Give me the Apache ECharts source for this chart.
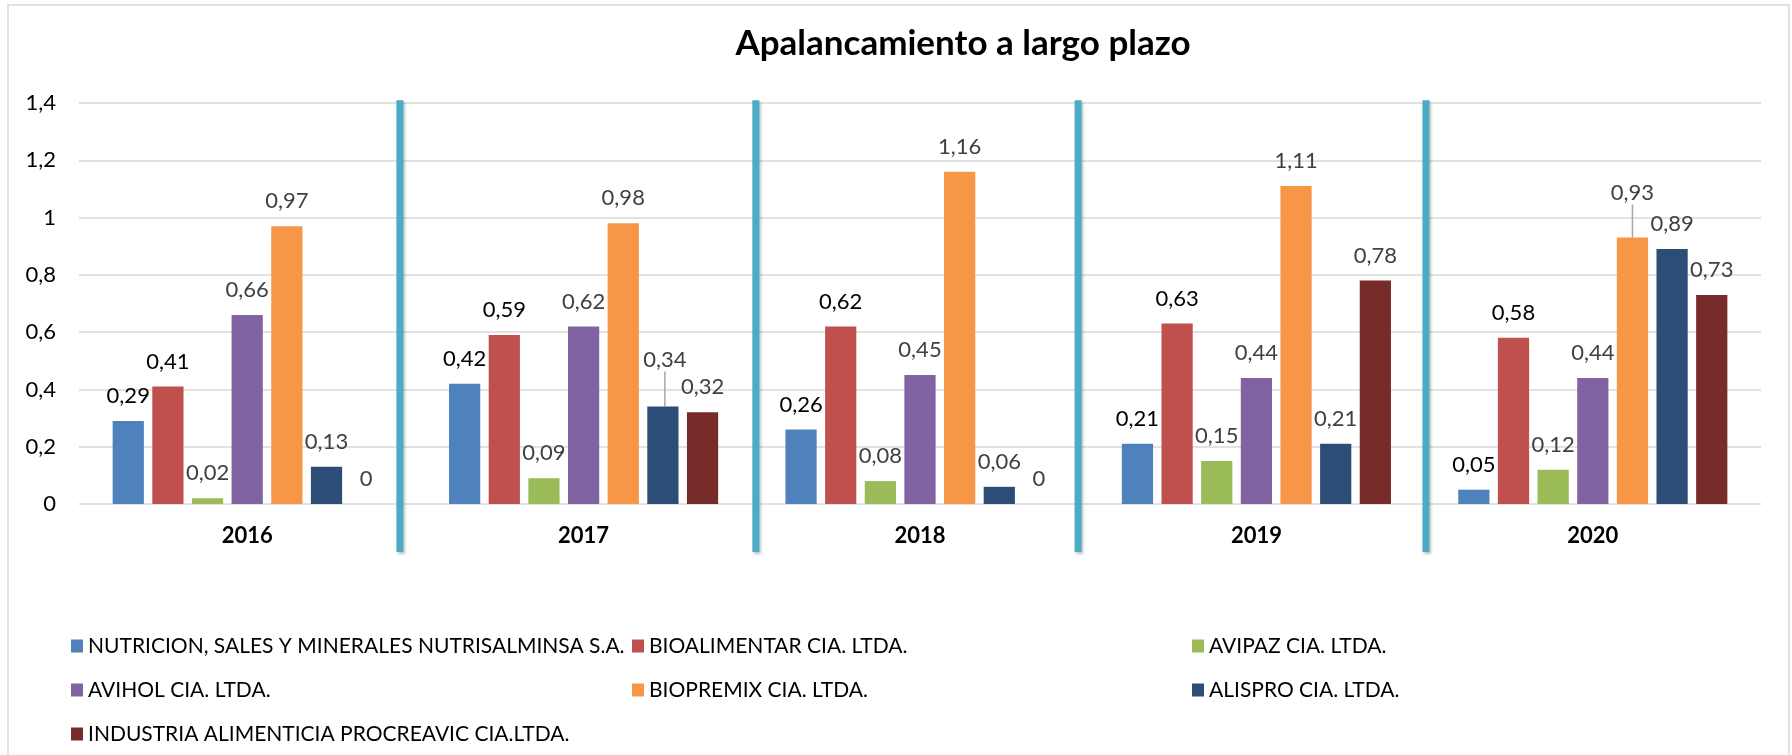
<!DOCTYPE html>
<html><head><meta charset="utf-8">
<script src="https://cdn.jsdelivr.net/npm/echarts@6/dist/echarts.min.js"></script>
<style>html,body{margin:0;padding:0;background:#fff}#c{width:1792px;height:755px}</style>
</head><body><div id="c"></div>
<script>
const chartTitle = 'Apalancamiento a largo plazo';
const years = ['2016', '2017', '2018', '2019', '2020'];
const seriesNames = [
  'NUTRICION, SALES Y MINERALES NUTRISALMINSA S.A.',
  'BIOALIMENTAR CIA. LTDA.',
  'AVIPAZ CIA. LTDA.',
  'AVIHOL CIA. LTDA.',
  'BIOPREMIX CIA. LTDA.',
  'ALISPRO CIA. LTDA.',
  'INDUSTRIA ALIMENTICIA PROCREAVIC CIA.LTDA.'
];
const nutrisalminsa = [0.29, 0.42, 0.26, 0.21, 0.05];
const bioalimentar  = [0.41, 0.59, 0.62, 0.63, 0.58];
const avipaz        = [0.02, 0.09, 0.08, 0.15, 0.12];
const avihol        = [0.66, 0.62, 0.45, 0.44, 0.44];
const biopremix     = [0.97, 0.98, 1.16, 1.11, 0.93];
const alispro       = [0.13, 0.34, 0.06, 0.21, 0.89];
const procreavic    = [0, 0.32, 0, 0.78, 0.73];
const yMin = 0, yMax = 1.4, yStep = 0.2;

const seriesValues = [nutrisalminsa, bioalimentar, avipaz, avihol, biopremix, alispro, procreavic];
const colors = ['#4F81BD', '#C0504D', '#9BBB59', '#8064A2', '#F79646', '#2C4D75', '#772C2A'];
const labelColors = ['#000000', '#000000', '#404040', '#404040', '#404040', '#404040', '#404040'];
// labels moved away from their bar, with a leader line: [seriesIndex, dataIndex, dx, dy]
const movedLabels = [[5, 1, 2, -22], [4, 4, 0, -20]];
// hand-drawn separator positions (in category units) and vertical span (in axis units)
const sepPos = [0.954, 2.012, 2.970, 4.004];
const sepTop = 1.41, sepBottom = -0.168;

const FONT = 'Lato, "Open Sans", sans-serif';
const fmt = v => String(Math.round(v * 100) / 100).replace('.', ',');

function findMove(si, di) {
  return movedLabels.find(m => m[0] === si && m[1] === di);
}

const chart = echarts.init(document.getElementById('c'), null, {renderer: 'canvas'});

const series = seriesValues.map((vals, si) => ({
  name: seriesNames[si],
  type: 'bar',
  xAxisIndex: 0,
  yAxisIndex: 0,
  barGap: '27%',
  barCategoryGap: '20%',
  itemStyle: {color: colors[si]},
  data: vals.map((v, di) => findMove(si, di)
    ? {value: v, labelLine: {show: true, lineStyle: {color: '#a6a6a6', width: 1.5}}}
    : v),
  label: {
    show: true,
    position: 'top',
    distance: 13,
    color: labelColors[si],
    fontFamily: FONT,
    fontSize: 22,
    lineHeight: 24,
    formatter: p => fmt(p.value)
  },
  labelLayout: params => {
    const m = findMove(params.seriesIndex, params.dataIndex);
    return m ? {dx: m[2], dy: m[3]} : {};
  }
}));

const legendCommon = {
  orient: 'vertical',
  top: 635,
  padding: 0,
  itemGap: 22,
  itemWidth: 12,
  itemHeight: 13,
  icon: 'rect',
  selectedMode: false,
  textStyle: {fontFamily: FONT, fontSize: 21, color: '#000', lineHeight: 22}
};

chart.setOption({
  animation: false,
  backgroundColor: '#fff',
  title: {
    text: chartTitle,
    left: 963,
    top: 26,
    padding: 0,
    textAlign: 'center',
    textStyle: {fontFamily: FONT, fontWeight: 'bold', fontSize: 35, color: '#000'}
  },
  legend: [
    Object.assign({left: 71, data: [seriesNames[0], seriesNames[3], seriesNames[6]]}, legendCommon),
    Object.assign({left: 632, data: [seriesNames[1], seriesNames[4]]}, legendCommon),
    Object.assign({left: 1192, data: [seriesNames[2], seriesNames[5]]}, legendCommon)
  ],
  grid: {left: 79, right: 31, top: 103, bottom: 251, containLabel: false, outerBoundsMode: 'none'},
  xAxis: [{
    type: 'category',
    data: years,
    axisLine: {show: false},
    axisTick: {show: false},
    axisLabel: {fontFamily: FONT, fontSize: 22, fontWeight: 'bold', color: '#000', margin: 20, lineHeight: 24}
  }, {
    type: 'value',
    min: 0,
    max: years.length,
    show: false
  }],
  yAxis: {
    type: 'value',
    min: yMin,
    max: yMax,
    interval: yStep,
    axisLine: {show: false},
    axisTick: {show: false},
    splitLine: {lineStyle: {color: '#d9d9d9', width: 1.5}},
    axisLabel: {fontFamily: FONT, fontSize: 22, color: '#000', margin: 23, formatter: v => fmt(v)}
  },
  series: series
});

const yT = chart.convertToPixel({yAxisIndex: 0}, sepTop);
const yB = chart.convertToPixel({yAxisIndex: 0}, sepBottom);
const graphics = [{
  type: 'rect',
  silent: true,
  shape: {x: 8, y: 5, width: 1781, height: 800},
  style: {fill: 'none', stroke: '#d9d9d9', lineWidth: 1.5}
}];
sepPos.forEach(p => {
  const x = chart.convertToPixel({xAxisIndex: 1}, p);
  graphics.push({
    type: 'line',
    silent: true,
    z: 100,
    shape: {x1: x, y1: yT, x2: x, y2: yB},
    style: {stroke: '#4BACC6', lineWidth: 7, shadowBlur: 3, shadowColor: 'rgba(0,0,0,0.25)', shadowOffsetX: 1.5, shadowOffsetY: 2}
  });
});
chart.setOption({graphic: graphics});
</script>
</body></html>
